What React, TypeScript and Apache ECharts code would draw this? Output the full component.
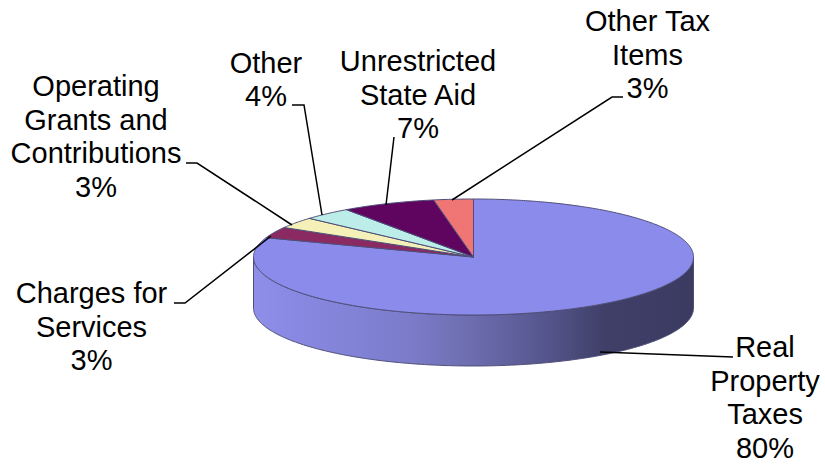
import React, { useEffect, useRef } from "react";
import * as echarts from "echarts";

const categories = ["Real Property Taxes", "Charges for Services", "Operating Grants and Contributions", "Other", "Unrestricted State Aid", "Other Tax Items"];
const sliceValues = [80.4, 3.1, 3.1, 3.6, 6.9, 2.9];
const percentLabels = ["80%", "3%", "3%", "4%", "7%", "3%"];
const labelLines = [
  ["Real", "Property", "Taxes"],
  ["Charges for", "Services"],
  ["Operating", "Grants and", "Contributions"],
  ["Other"],
  ["Unrestricted", "State Aid"],
  ["Other Tax", "Items"],
];
const sliceColors = ["#8B8BEC", "#8B2A62", "#F4F0B8", "#BCEDE9", "#5F0560", "#F07676"];

// layout of the drawing, not data
const CX = 473.5, CY = 257, RX = 220, RY = 58, DEPTH = 51;
const labelCenters = [[765, 397.5], [91.5, 326.5], [96, 136.5], [266, 79.5], [418, 94.5], [647.5, 54.5]];
const leaders = [
  [[600, 352], [733, 357]],
  [[271, 236], [185, 303], [174, 303]],
  [[292, 225], [197, 163], [186, 163]],
  [[322, 215], [304, 105], [292, 105]],
  [[386, 205], [394, 137]],
  [[452, 200], [612, 97], [623, 97]],
];
const EDGE = "#4E4E78";

const pt = (a: number, dy = 0) => [CX + RX * Math.sin(a), CY - RY * Math.cos(a) + dy];

function arc(a0: number, a1: number, dy = 0) {
  const n = Math.max(2, Math.ceil(Math.abs(a1 - a0) / 0.01));
  const out: number[][] = [];
  for (let i = 0; i <= n; i++) out.push(pt(a0 + ((a1 - a0) * i) / n, dy));
  return out;
}

export default function App() {
  const ref = useRef<HTMLDivElement>(null);
  useEffect(() => {
    const chart = echarts.init(ref.current!, undefined, { renderer: "svg" });
    const total = sliceValues.reduce((s, v) => s + v, 0);
    const sideGradient = new echarts.graphic.LinearGradient(0, 0, 1, 0, [
      { offset: 0, color: "#8F8FEA" },
      { offset: 0.1, color: "#8888E2" },
      { offset: 0.35, color: "#7C7CCB" },
      { offset: 0.5, color: "#6C6CAE" },
      { offset: 0.66, color: "#56568E" },
      { offset: 0.8, color: "#3F3F68" },
      { offset: 1, color: "#3B3B62" },
    ]);
    chart.setOption({
      animation: false,
      backgroundColor: "#ffffff",
      series: [
        {
          type: "custom",
          coordinateSystem: "none",
          silent: true,
          clip: false,
          data: sliceValues.map((v, i) => ({ name: categories[i], value: [v] })),
          renderItem: (params: any, api: any) => {
            const i = params.dataIndex;
            // the first slice runs clockwise from 12 o'clock
            let before = 0;
            for (let k = 0; k < i; k++) before += sliceValues[k];
            const a0 = (before / total) * Math.PI * 2;
            const a1 = ((before + api.value(0)) / total) * Math.PI * 2;
            const children: any[] = [];
            // visible wall: the front half of the rim that this slice covers
            const f0 = Math.max(a0, Math.PI / 2);
            const f1 = Math.min(a1, (Math.PI * 3) / 2);
            if (f1 > f0) {
              children.push({
                type: "polygon",
                shape: { points: [...arc(f0, f1), ...arc(f1, f0, DEPTH)] },
                style: { fill: sideGradient, stroke: EDGE, lineWidth: 1 },
              });
            }
            children.push({
              type: "polygon",
              shape: { points: [[CX, CY], ...arc(a0, a1)] },
              style: { fill: sliceColors[i], stroke: EDGE, lineWidth: 1, lineJoin: "round" },
            });
            return { type: "group", children };
          },
        },
        {
          type: "custom",
          coordinateSystem: "none",
          silent: true,
          clip: false,
          z: 5,
          data: categories.map((c) => ({ name: c, value: [0] })),
          renderItem: (params: any) => {
            const i = params.dataIndex;
            const [x, y] = labelCenters[i];
            return {
              type: "group",
              children: [
                {
                  type: "polyline",
                  shape: { points: leaders[i] },
                  style: { fill: "none", stroke: "#000000", lineWidth: 1.5 },
                },
                {
                  type: "text",
                  x,
                  y,
                  style: {
                    text: [...labelLines[i], percentLabels[i]].join("\n"),
                    fill: "#000000",
                    font: "29px 'Liberation Sans', Arial, sans-serif",
                    lineHeight: 33.4,
                    align: "center",
                    verticalAlign: "middle",
                  },
                },
              ],
            };
          },
        },
      ],
    });
    return () => chart.dispose();
  }, []);
  return <div ref={ref} style={{ position: "fixed", left: 0, top: 0, width: 825, height: 464 }} />;
}
